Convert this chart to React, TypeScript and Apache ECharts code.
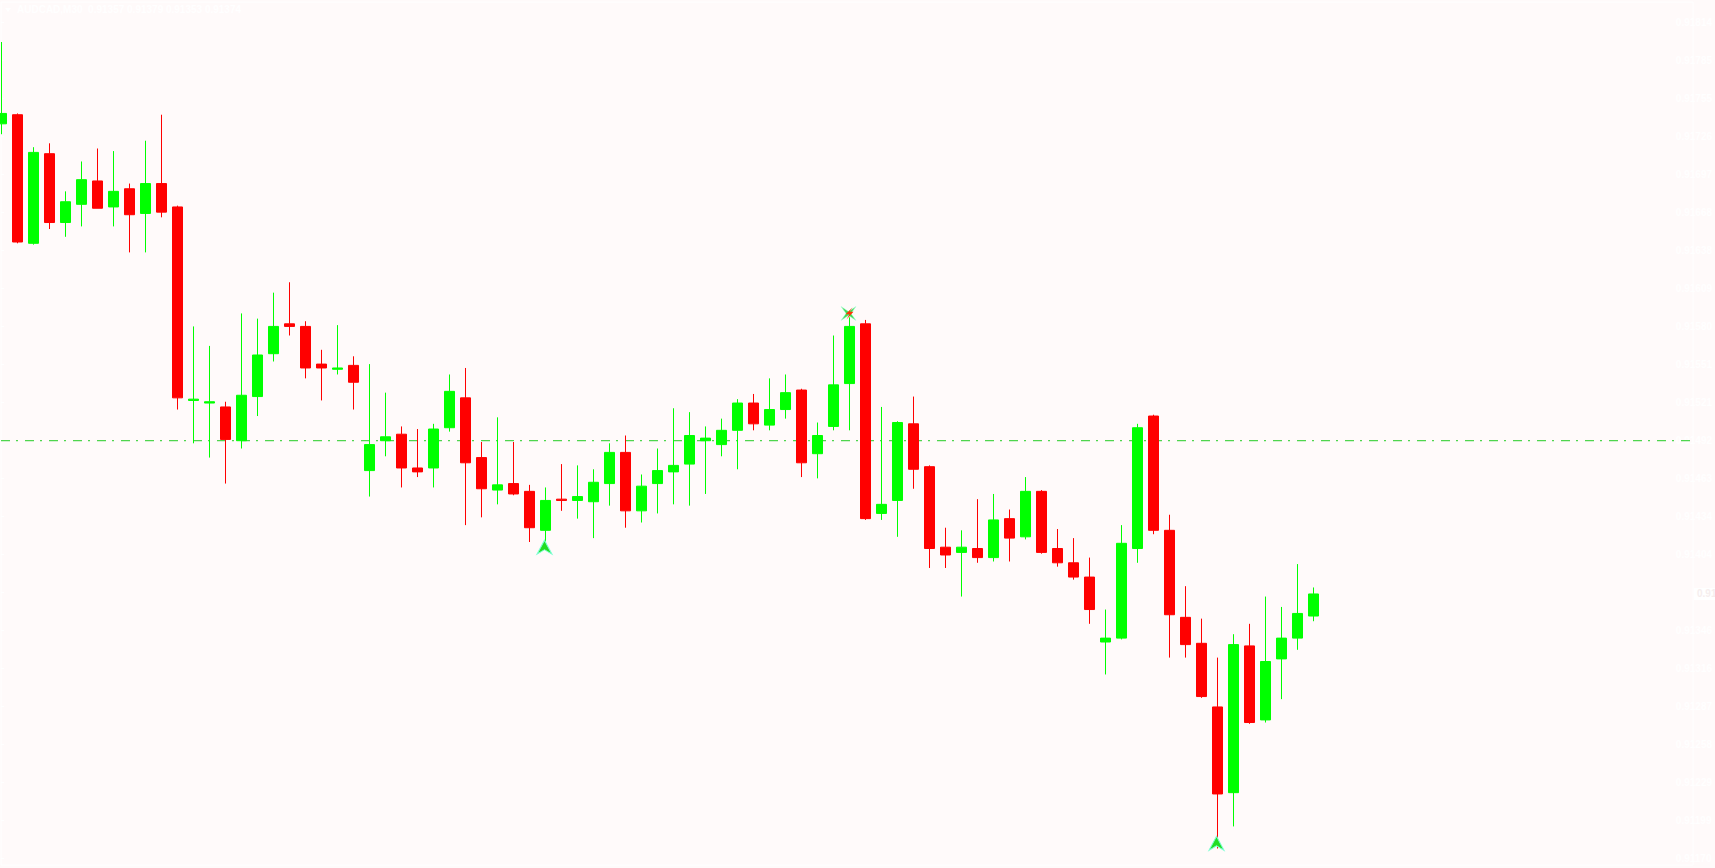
import { useEffect, useRef } from "react";
import * as echarts from "echarts";

// ---- Data (AUDCAD, M30) ----
const symbolTitle = "AUDCAD,M30";
const opens = [
  0.91736, 0.91743, 0.91644, 0.91713, 0.9166, 0.91674, 0.91692, 0.91672, 0.91686, 0.91667,
  0.9169, 0.91672, 0.91523, 0.91521, 0.91518, 0.91492, 0.91526, 0.91559, 0.91582, 0.9158,
  0.91551, 0.91547, 0.9155, 0.91469, 0.91492, 0.91497, 0.91471, 0.91471, 0.91502, 0.91525,
  0.91479, 0.91454, 0.91459, 0.91453, 0.91423, 0.91447, 0.91446, 0.91445, 0.91459, 0.91483,
  0.91438, 0.91459, 0.91468, 0.91474, 0.91492, 0.91489, 0.915, 0.91521, 0.91504, 0.91516,
  0.91531, 0.91482, 0.91503, 0.91536, 0.91582, 0.91436, 0.91446, 0.91505, 0.91472, 0.9141,
  0.91406, 0.91409, 0.91402, 0.91432, 0.91418, 0.91453, 0.91409, 0.91398, 0.91387, 0.91337,
  0.9134, 0.91409, 0.91511, 0.91423, 0.91356, 0.91336, 0.91287, 0.91221, 0.91334, 0.91277,
  0.91324, 0.9134, 0.91357,
];
const closes = [
  0.91744, 0.91645, 0.91714, 0.9166, 0.91676, 0.91693, 0.91671, 0.91684, 0.91666, 0.9169,
  0.91668, 0.91525, 0.91524, 0.91522, 0.91493, 0.91527, 0.91558, 0.9158, 0.9158, 0.91548,
  0.91548, 0.91548, 0.91537, 0.91489, 0.91495, 0.91471, 0.91468, 0.91501, 0.9153, 0.91475,
  0.91455, 0.91458, 0.91451, 0.91425, 0.91446, 0.91446, 0.91449, 0.9146, 0.91483, 0.91438,
  0.91457, 0.91469, 0.91473, 0.91496, 0.91494, 0.915, 0.91521, 0.91505, 0.91516, 0.91529,
  0.91475, 0.91496, 0.91535, 0.9158, 0.91432, 0.91443, 0.91506, 0.9147, 0.91409, 0.91404,
  0.9141, 0.91402, 0.91431, 0.91417, 0.91453, 0.91406, 0.91398, 0.91387, 0.91362, 0.9134,
  0.91413, 0.91502, 0.91423, 0.91358, 0.91335, 0.91295, 0.9122, 0.91335, 0.91275, 0.91322,
  0.9134, 0.91359, 0.91374,
];
const lows = [
  0.91728, 0.91644, 0.91643, 0.91655, 0.91649, 0.91657, 0.91671, 0.91657, 0.91637, 0.91637,
  0.91664, 0.91516, 0.9149, 0.91479, 0.91459, 0.91486, 0.91511, 0.91553, 0.91573, 0.9154,
  0.91523, 0.91543, 0.91516, 0.91449, 0.9148, 0.91456, 0.91464, 0.91456, 0.91499, 0.91427,
  0.91433, 0.91443, 0.9145, 0.91414, 0.91413, 0.91438, 0.91432, 0.91417, 0.91442, 0.91425,
  0.91429, 0.91436, 0.91443, 0.91442, 0.91451, 0.9148, 0.9147, 0.915, 0.915, 0.91509,
  0.91464, 0.91463, 0.915, 0.915, 0.91431, 0.91431, 0.91418, 0.91455, 0.91394, 0.91394,
  0.91372, 0.91398, 0.91399, 0.91399, 0.91416, 0.91405, 0.91395, 0.91385, 0.91351, 0.91312,
  0.91339, 0.91398, 0.9142, 0.91325, 0.91325, 0.91294, 0.91178, 0.91195, 0.91274, 0.91275,
  0.91293, 0.91331, 0.91353,
];
const highs = [
  0.91799, 0.91744, 0.91718, 0.91721, 0.91684, 0.91707, 0.91717, 0.91715, 0.9169, 0.91723,
  0.91743, 0.91673, 0.9158, 0.91565, 0.91522, 0.9159, 0.91586, 0.91606, 0.91614, 0.91584,
  0.91562, 0.91581, 0.91557, 0.91551, 0.91529, 0.91503, 0.91501, 0.91505, 0.91543, 0.91548,
  0.91491, 0.9151, 0.91491, 0.91458, 0.91456, 0.91474, 0.91473, 0.9147, 0.9149, 0.91496,
  0.91466, 0.91486, 0.91517, 0.91514, 0.91503, 0.91509, 0.91524, 0.91528, 0.9154, 0.91543,
  0.91532, 0.91506, 0.91573, 0.91587, 0.91585, 0.91518, 0.91507, 0.91526, 0.91473, 0.91425,
  0.91423, 0.91447, 0.91451, 0.91439, 0.91464, 0.91454, 0.91424, 0.91417, 0.91402, 0.91362,
  0.91427, 0.91505, 0.91512, 0.91435, 0.9138, 0.91355, 0.91325, 0.91343, 0.91351, 0.91372,
  0.91364, 0.91397, 0.91379,
];
// price-scale tick labels (top to bottom); the one under the current-price box is hidden by it
const priceTickLabels = [
  "0.91814", "0.91785", "0.91755", "0.91726", "0.91697", "0.91668", "0.91638", "0.91609",
  "0.91580", "0.91551", "0.91521", "0.91492", "0.91463", "0.91434", "0.91404", "",
  "0.91346", "0.91316", "0.91287", "0.91258", "0.91229", "0.91199", "0.91170",
];
// horizontal level line
const levelPrice = 0.91492;
// arrow signals
const buySignalBars = [34, 76];
const buySignalPrices = [0.9141, 0.91182];
const crossSignalBars = [53];
const crossSignalPrices = [0.9159];

const TOTAL_SLOTS = 106;
const Y_MIN = 0.911653;
const Y_MAX = 0.918298;
const BG = "#fffafa";

export default function App() {
  const ref = useRef<HTMLDivElement>(null);
  useEffect(() => {
    const el = ref.current;
    if (!el) return;
    const chart = echarts.init(el, null, { renderer: "svg" });
    const candleData = opens.map((o, i) => [o, closes[i], lows[i], highs[i]]);
    const categories = Array.from({ length: TOTAL_SLOTS }, (_, i) => String(i));
    const buyArrow = "path://M7.5,0 L15,14 L7.5,9.5 L0,14 Z";
    const star = "path://M0,0 L7.5,5 L15,0 L10,7 L15,14 L7.5,9 L0,14 L5,7 Z";
    const bolt = "path://M11,0 L4,8 L8,8 L5,14 L12,5 L8,5 Z";

    const markPoints: any[] = [];
    buySignalBars.forEach((b, i) => {
      markPoints.push({
        coord: [b, buySignalPrices[i]],
        symbol: buyArrow,
        symbolSize: [15, 14],
        symbolOffset: [-1, 0],
        itemStyle: { color: "#22dd22", borderColor: "#7fffd4", borderWidth: 1 },
      });
    });
    crossSignalBars.forEach((b, i) => {
      markPoints.push({
        coord: [b, crossSignalPrices[i]],
        symbol: star,
        symbolSize: [15, 14],
        symbolOffset: [-1, 0],
        itemStyle: { color: "#44dd55", borderColor: "#aaffdd", borderWidth: 0.5 },
      });
      markPoints.push({
        coord: [b, crossSignalPrices[i]],
        symbol: bolt,
        symbolSize: [8, 12],
        symbolOffset: [0, 0],
        itemStyle: { color: "#ff3300" },
      });
    });

    chart.setOption({
      animation: false,
      backgroundColor: BG,
      grid: [
        { left: 1.5, top: 2, width: (TOTAL_SLOTS - 1) * 16, bottom: 3 },
        { left: 1, top: 2, right: 22, bottom: 3, show: true, borderColor: "#ffffff", borderWidth: 1, backgroundColor: "transparent" },
        { left: 1, top: 22.7, right: 22, bottom: 9.3 },
      ],
      xAxis: [
        { gridIndex: 0, type: "category", data: categories, boundaryGap: false, show: false },
        { gridIndex: 1, type: "value", min: 0, max: 1, show: false },
        { gridIndex: 2, type: "value", show: false },
      ],
      yAxis: [
        { gridIndex: 0, type: "value", min: Y_MIN, max: Y_MAX, show: false, splitLine: { show: false } },
        { gridIndex: 1, type: "value", min: Y_MIN, max: Y_MAX, show: false, splitLine: { show: false } },
        {
          gridIndex: 2,
          type: "category",
          data: priceTickLabels,
          inverse: true,
          boundaryGap: false,
          position: "right",
          axisLine: { show: false },
          axisTick: { show: true, length: 3, lineStyle: { color: "#ffffff" } },
          axisLabel: { color: "#ffffff", fontSize: 10, margin: 5, interval: 0, fontFamily: "Liberation Sans", fontWeight: "bold" },
          splitLine: { show: false },
        },
      ],
      series: [
        {
          name: "level",
          type: "line",
          xAxisIndex: 1,
          yAxisIndex: 1,
          data: [[0, levelPrice], [1, levelPrice]],
          symbol: "none",
          silent: true,
          z: 1,
          lineStyle: { color: "#22cc22", width: 1, type: [9, 6, 2, 7] },
          emphasis: { disabled: true },
        },
        {
          type: "candlestick",
          xAxisIndex: 0,
          yAxisIndex: 0,
          data: candleData,
          barWidth: 10,
          clip: false,
          z: 3,
          itemStyle: {
            color: "#00ff00",
            color0: "#ff0000",
            borderColor: "#00ff00",
            borderColor0: "#ff0000",
            borderWidth: 1,
          },
          emphasis: { disabled: true },
          markPoint: {
            silent: true,
            label: { show: false },
            data: markPoints,
          },
        },
      ],
    });

    const lastClose = closes[closes.length - 1];
    const py = chart.convertToPixel({ yAxisIndex: 0 }, lastClose) as unknown as number;
    const o = opens[opens.length - 1], h = highs[highs.length - 1], l = lows[lows.length - 1];
    chart.setOption({
      graphic: [
        { type: "polygon", shape: { points: [[5, 8], [11, 8], [8, 12]] }, style: { fill: "#ffffff" } },
        {
          type: "text",
          left: 17,
          top: 4,
          style: {
            text: `${symbolTitle}  ${o.toFixed(5)} ${h.toFixed(5)} ${l.toFixed(5)} ${lastClose.toFixed(5)}`,
            fill: "#ffffff",
            font: "bold 10px 'Liberation Sans'",
          },
        },
        { type: "rect", shape: { x: 1694, y: py - 6, width: 21, height: 12 }, style: { fill: "#ffffff" } },
        {
          type: "text",
          x: 1697,
          y: py,
          style: { text: lastClose.toFixed(5), fill: "#f6eeee", font: "bold 10px 'Liberation Sans'", verticalAlign: "middle" },
        },
      ],
    });

    return () => chart.dispose();
  }, []);
  return <div ref={ref} style={{ position: "fixed", left: 0, top: 0, width: 1715, height: 868 }} />;
}
